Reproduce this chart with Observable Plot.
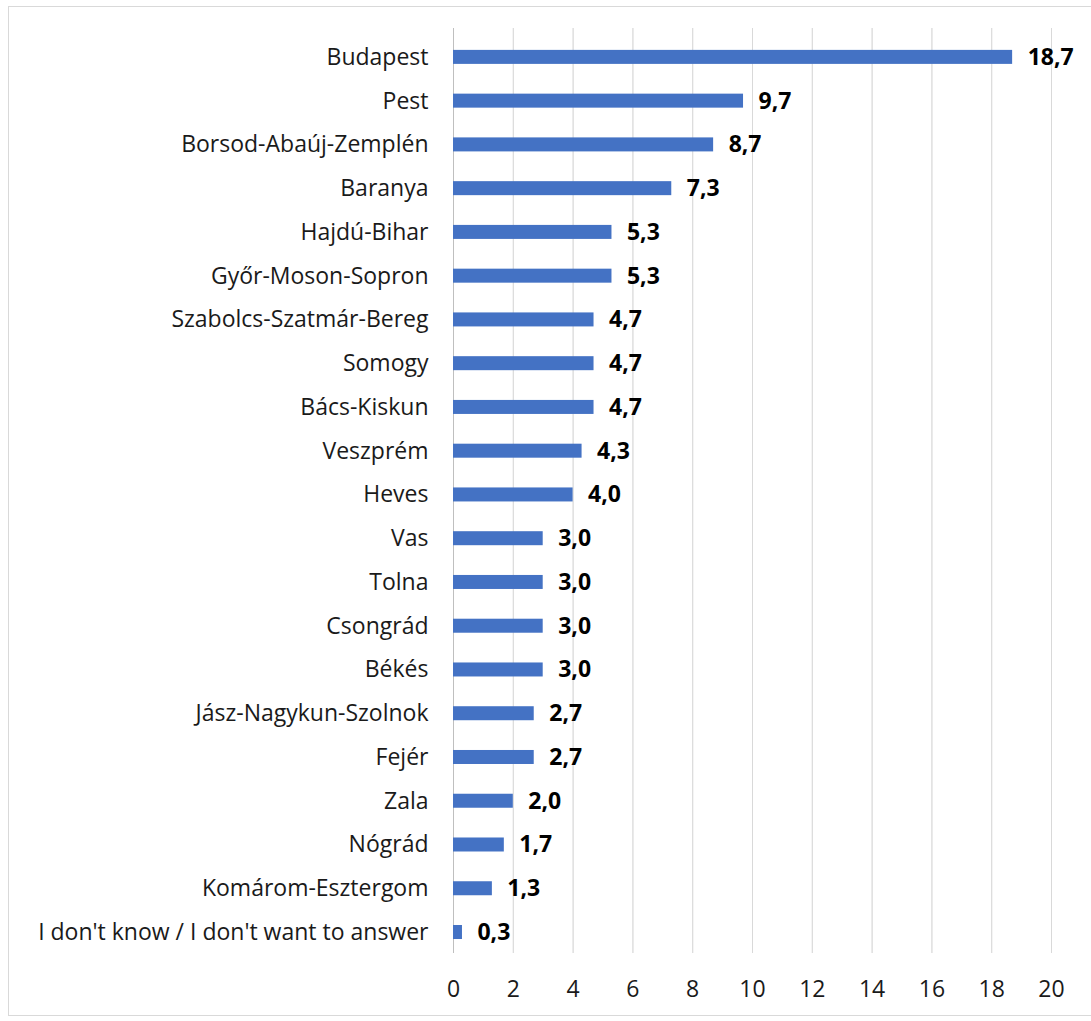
<!DOCTYPE html>
<html>
<head>
<meta charset="utf-8">
<script src="https://cdn.jsdelivr.net/npm/d3@7"></script>
<script src="https://cdn.jsdelivr.net/npm/@observablehq/plot@0.6"></script>
<style>
  html, body { margin: 0; padding: 0; background: #fff; }
  #wrap { position: relative; width: 1091px; height: 1021px; overflow: hidden; }
  #frame { position: absolute; left: 8px; top: 6px; width: 1090px; height: 1010px; border: 1px solid #d9d9d9; box-sizing: border-box; pointer-events: none; }
</style>
</head>
<body>
<div id="wrap"><div id="frame"></div></div>
<script>
const categories = [
  "Budapest", "Pest", "Borsod-Abaúj-Zemplén", "Baranya", "Hajdú-Bihar",
  "Győr-Moson-Sopron", "Szabolcs-Szatmár-Bereg", "Somogy", "Bács-Kiskun",
  "Veszprém", "Heves", "Vas", "Tolna", "Csongrád", "Békés",
  "Jász-Nagykun-Szolnok", "Fejér", "Zala", "Nógrád", "Komárom-Esztergom",
  "I don't know / I don't want to answer"
];
const values = [18.7, 9.7, 8.7, 7.3, 5.3, 5.3, 4.7, 4.7, 4.7, 4.3, 4.0, 3.0, 3.0, 3.0, 3.0, 2.7, 2.7, 2.0, 1.7, 1.3, 0.3];
const xTicks = [0, 2, 4, 6, 8, 10, 12, 14, 16, 18, 20];

const data = categories.map((c, i) => ({category: c, value: values[i]}));
const fmt = v => v.toFixed(1).replace(".", ",");

const chart = Plot.plot({
  width: 1091,
  height: 1021,
  marginLeft: 453,
  marginRight: 40,
  marginTop: 28,
  marginBottom: 68,
  style: {fontFamily: "'Open Sans', sans-serif", fontSize: "23px", color: "#1a1a1a", background: "transparent"},
  x: {domain: [0, 20], ticks: xTicks, grid: true, label: null, tickSize: 0, tickPadding: 27, tickFormat: d => String(d), fontSize: 22},
  y: {domain: categories, label: null, tickSize: 0, tickPadding: 25, paddingInner: 0.68, paddingOuter: 0.41, align: 0.61, round: false},
  marks: [
    Plot.gridX(xTicks, {stroke: "#d9d9d9", strokeOpacity: 1, strokeWidth: 1}),
    Plot.ruleX([0], {stroke: "#bfbfbf", strokeWidth: 1}),
    Plot.barX(data, {x: "value", y: "category", fill: "#4472c4"}),
    Plot.text(data, {x: "value", y: "category", text: d => fmt(d.value), textAnchor: "start", dx: 15, fontWeight: "bold", fontSize: 23, fill: "#000"})
  ]
});
document.getElementById("wrap").prepend(chart);
</script>
</body>
</html>
